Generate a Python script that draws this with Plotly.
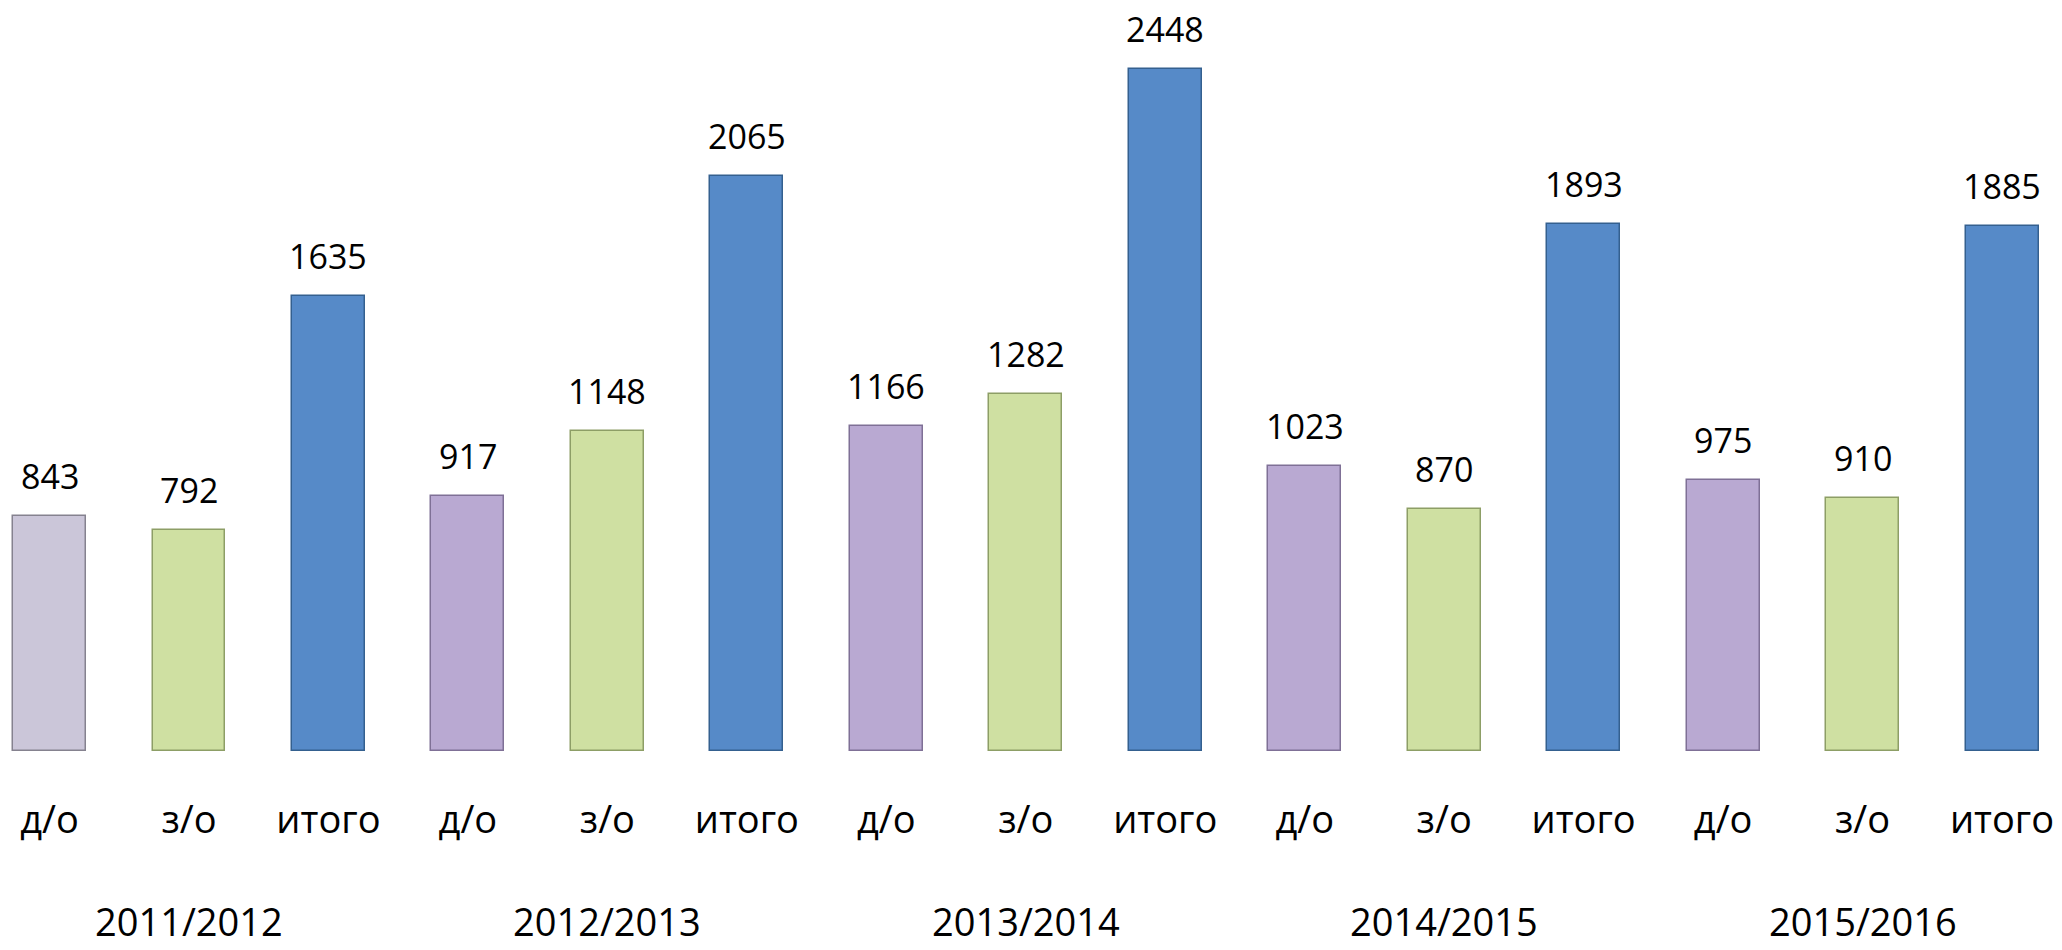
import plotly.graph_objects as go

years = ["2011/2012", "2012/2013", "2013/2014", "2014/2015", "2015/2016"]
categories = ["д/о", "з/о", "итого"]
do_values = [843, 917, 1166, 1023, 975]
zo_values = [792, 1148, 1282, 870, 910]
total_values = [1635, 2065, 2448, 1893, 1885]

cat_colors = {"д/о": "#b9a9d2", "з/о": "#cfe0a2", "итого": "#568ac8"}
cat_lines = {"д/о": "#7f7096", "з/о": "#8d9e66", "итого": "#34608f"}
first_bar_color = "#cbc6d9"
first_bar_line = "#85828f"

xs, vals, labels, colors, lines = [], [], [], [], []
i = 0
for yi, yr in enumerate(years):
    for cat, series in zip(categories, [do_values, zo_values, total_values]):
        xs.append(i)
        vals.append(series[yi])
        labels.append(cat)
        if yi == 0 and cat == "д/о":
            colors.append(first_bar_color)
            lines.append(first_bar_line)
        else:
            colors.append(cat_colors[cat])
            lines.append(cat_lines[cat])
        i += 1

font_family = "Open Sans, Noto Sans, sans-serif"

fig = go.Figure()
fig.add_trace(go.Bar(
    x=xs, y=vals, width=0.523,
    marker=dict(color=colors, line=dict(color=lines, width=1.5)),
    hoverinfo="x+y",
))

annotations = []
for x, v in zip(xs, vals):
    annotations.append(dict(
        x=x, y=v, xref="x", yref="y", text=str(v), showarrow=False,
        yanchor="middle", yshift=40,
        font=dict(family=font_family, size=34, color="#000000"),
    ))
for gi, yr in enumerate(years):
    annotations.append(dict(
        x=gi * 3 + 1, y=0, xref="x", yref="paper", text=yr, showarrow=False,
        yanchor="middle", yshift=-170,
        font=dict(family=font_family, size=38, color="#000000"),
    ))

fig.update_layout(
    width=2062, height=950,
    margin=dict(l=0, r=0, t=0, b=199),
    paper_bgcolor="white", plot_bgcolor="white",
    showlegend=False,
    bargap=0,
    annotations=annotations,
    xaxis=dict(
        range=[-0.355, 14.43],
        tickmode="array", tickvals=xs, ticktext=labels,
        showgrid=False, zeroline=False, showline=False, ticks="",
        ticklabelstandoff=43,
        tickfont=dict(family=font_family, size=38, color="#000000"),
    ),
    yaxis=dict(
        range=[0, 2697], visible=False, showgrid=False, zeroline=False,
    ),
)

fig.write_html(
    "out.html",
    config={"displayModeBar": False},
    post_script="document.body.style.margin='0';document.body.style.overflow='hidden';",
)
